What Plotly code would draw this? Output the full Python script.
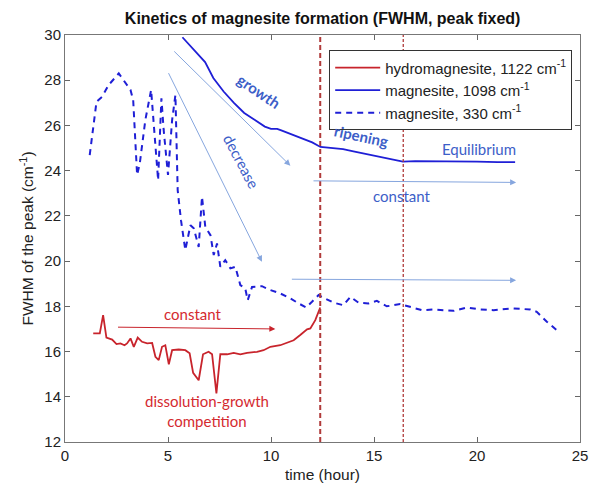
import plotly.graph_objects as go

# ---- data ----
hydro_t = [1.37, 1.69, 1.85, 2.01, 2.29, 2.50, 2.69, 2.89, 3.01, 3.18, 3.34, 3.53, 3.74, 3.99, 4.23,
           4.39, 4.55, 4.71, 4.87, 5.04, 5.20, 5.52, 5.84, 6.05, 6.22, 6.49, 6.70, 6.97, 7.14, 7.35,
           7.54, 7.87, 8.19, 8.51, 8.84, 9.32, 9.64, 9.97, 10.45, 10.78, 11.10, 11.42, 11.75, 11.91,
           12.15, 12.39]
hydro_w = [16.80, 16.80, 17.61, 16.62, 16.53, 16.33, 16.36, 16.28, 16.36, 16.58, 16.21, 16.62, 16.43,
           16.36, 16.38, 15.77, 15.62, 16.21, 16.28, 15.44, 16.06, 16.09, 16.06, 15.92, 15.06, 14.73,
           15.88, 15.99, 15.88, 14.15, 15.88, 15.88, 15.94, 15.88, 15.94, 15.99, 16.06, 16.21, 16.28,
           16.38, 16.50, 16.73, 16.98, 17.02, 17.39, 17.95]

mag1098_t = [5.70, 6.20, 6.80, 7.20, 7.70, 8.20, 8.70, 9.20, 9.70, 10.00, 10.30, 10.50, 11.00, 11.50,
             12.00, 12.40, 13.00, 13.50, 14.00, 14.50, 15.00, 15.50, 16.00, 16.40, 17.00, 18.00,
             19.00, 20.00, 21.00, 21.85]
mag1098_w = [29.90, 29.40, 28.80, 28.10, 27.50, 27.00, 26.55, 26.25, 25.95, 25.85, 25.85, 25.78, 25.60,
             25.42, 25.25, 25.05, 25.00, 24.95, 24.85, 24.75, 24.65, 24.55, 24.45, 24.40, 24.42,
             24.42, 24.42, 24.40, 24.38, 24.38]

mag330_t = [1.20, 1.53, 1.80, 2.12, 2.61, 3.18, 3.31, 3.50, 3.63, 3.90, 4.18, 4.31, 4.52, 4.68, 4.79,
            5.00, 5.20, 5.36, 5.47, 5.63, 5.84, 6.09, 6.25, 6.49, 6.65, 6.81, 7.06, 7.22, 7.38, 7.54,
            7.78, 8.03, 8.27, 8.51, 8.75, 8.87, 9.08, 9.56, 9.97, 10.45, 10.94, 11.34, 11.71, 11.99,
            12.31, 12.47, 13.04, 13.52, 13.85, 14.25, 14.73, 15.14, 15.62, 16.27, 16.76, 17.32, 17.89,
            18.86, 19.51, 20.15, 20.80, 21.77, 22.58, 22.90, 23.39, 23.87]
mag330_w = [24.69, 27.05, 27.27, 27.79, 28.30, 27.57, 27.12, 23.81, 24.32, 26.24, 27.57, 25.94, 23.58,
            27.20, 25.80, 23.81, 26.24, 27.35, 23.14, 21.81, 20.49, 21.59, 21.45, 20.63, 22.85, 21.52,
            21.15, 20.27, 20.78, 19.75, 20.04, 19.68, 19.75, 18.94, 18.79, 18.27, 18.86, 18.89, 18.72,
            18.57, 18.35, 18.13, 17.95, 18.20, 18.50, 18.42, 18.16, 18.05, 18.42, 18.16, 18.13, 18.24,
            18.00, 18.10, 17.98, 17.83, 17.86, 17.80, 17.95, 17.86, 17.83, 17.91, 17.86, 17.76, 17.32,
            16.95]

stage_lines = [12.39, 16.42]

x_ticks = [0, 5, 10, 15, 20, 25]
y_ticks = [12, 14, 16, 18, 20, 22, 24, 26, 28, 30]

RED = "#c8242c"
BLUE = "#1f1fd6"
TXT_BLUE = "#3c5ec8"
TXT_RED = "#d42a30"
ARROW = "#86a6de"
VLINE = "#b03a3a"

fig = go.Figure()
fig.add_trace(go.Scatter(x=hydro_t, y=hydro_w, mode="lines", line=dict(color=RED, width=1.8),
                         name="hydromagnesite, 1122 cm<sup>-1</sup>"))
fig.add_trace(go.Scatter(x=mag1098_t, y=mag1098_w, mode="lines", line=dict(color=BLUE, width=1.8),
                         name="magnesite, 1098 cm<sup>-1</sup>"))
fig.add_trace(go.Scatter(x=mag330_t, y=mag330_w, mode="lines",
                         line=dict(color=BLUE, width=2, dash="6px,5px"),
                         name="magnesite, 330 cm<sup>-1</sup>"))

# vertical stage lines
fig.add_shape(type="line", xref="x", yref="paper", x0=stage_lines[0], x1=stage_lines[0], y0=0, y1=1,
              line=dict(color=VLINE, width=2, dash="5px,3px"))
fig.add_shape(type="line", xref="x", yref="paper", x0=stage_lines[1], x1=stage_lines[1], y0=0, y1=1,
              line=dict(color=VLINE, width=1.3, dash="3px,2px"))

# arrows
arrows = [
    ((5.23, 29.34), (10.94, 24.22), ARROW),
    ((4.99, 28.38), (9.56, 19.97), ARROW),
    ((11.99, 23.55), (21.9, 23.48), ARROW),
    ((10.94, 19.2), (21.9, 19.15), ARROW),
    ((2.50, 17.08), (10.21, 17.0), RED),
]
for (x0, y0), (x1, y1), c in arrows:
    fig.add_annotation(x=x1, y=y1, ax=x0, ay=y0, xref="x", yref="y", axref="x", ayref="y",
                       showarrow=True, arrowhead=2, arrowsize=1.2, arrowwidth=1, arrowcolor=c, text="")

AF = "Lato, Open Sans, sans-serif"
texts = [
    ("<b>growth</b>", 9.40, 27.52, 34, TXT_BLUE),
    ("decrease", 8.59, 24.39, 62, TXT_BLUE),
    ("<b>ripening</b>", 14.41, 25.55, 12, TXT_BLUE),
    ("Equilibrium", 20.12, 24.98, 0, TXT_BLUE),
    ("constant", 16.35, 22.89, 0, TXT_BLUE),
    ("constant", 6.17, 17.65, 0, TXT_RED),
    ("dissolution-growth<br>competition", 6.90, 13.35, 0, TXT_RED),
]
for t, x, y, ang, c in texts:
    fig.add_annotation(x=x, y=y, xref="x", yref="y", text=t, showarrow=False, textangle=ang,
                       font=dict(family=AF, size=15, color=c))

fig.update_layout(
    width=592, height=491,
    margin=dict(l=64.5, r=12, t=35, b=49.3, autoexpand=False),
    paper_bgcolor="white", plot_bgcolor="white",
    font=dict(family="Liberation Sans, Arial, sans-serif", size=15, color="#222222"),
    title=dict(text="<b>Kinetics of magnesite formation (FWHM, peak fixed)</b>",
               x=0.545, xanchor="center", y=0.963, yanchor="middle",
               font=dict(size=16, color="#111111")),
    legend=dict(x=0.513, y=0.962, xanchor="left", yanchor="top",
                bgcolor="white", bordercolor="#333333", borderwidth=1,
                font=dict(size=15, color="#222222"), tracegroupgap=0, itemwidth=45),
    showlegend=True,
)
fig.update_xaxes(range=[0, 25], tickvals=x_ticks, ticks="inside", ticklen=5, tickcolor="#666666",
                 showline=True, linecolor="#777777", linewidth=1, mirror="ticks", showgrid=False,
                 zeroline=False, automargin=False,
                 title=dict(text="time (hour)", standoff=6, font=dict(size=15.5)),
                 tickfont=dict(size=15))
fig.update_yaxes(range=[12, 30], tickvals=y_ticks, ticks="inside", ticklen=5, tickcolor="#666666",
                 showline=True, linecolor="#777777", linewidth=1, mirror="ticks", showgrid=False,
                 zeroline=False, automargin=False,
                 title=dict(text="FWHM of the peak (cm<sup>-1</sup>)", standoff=6, font=dict(size=15.5)),
                 tickfont=dict(size=15))

fig.write_html("out.html")
